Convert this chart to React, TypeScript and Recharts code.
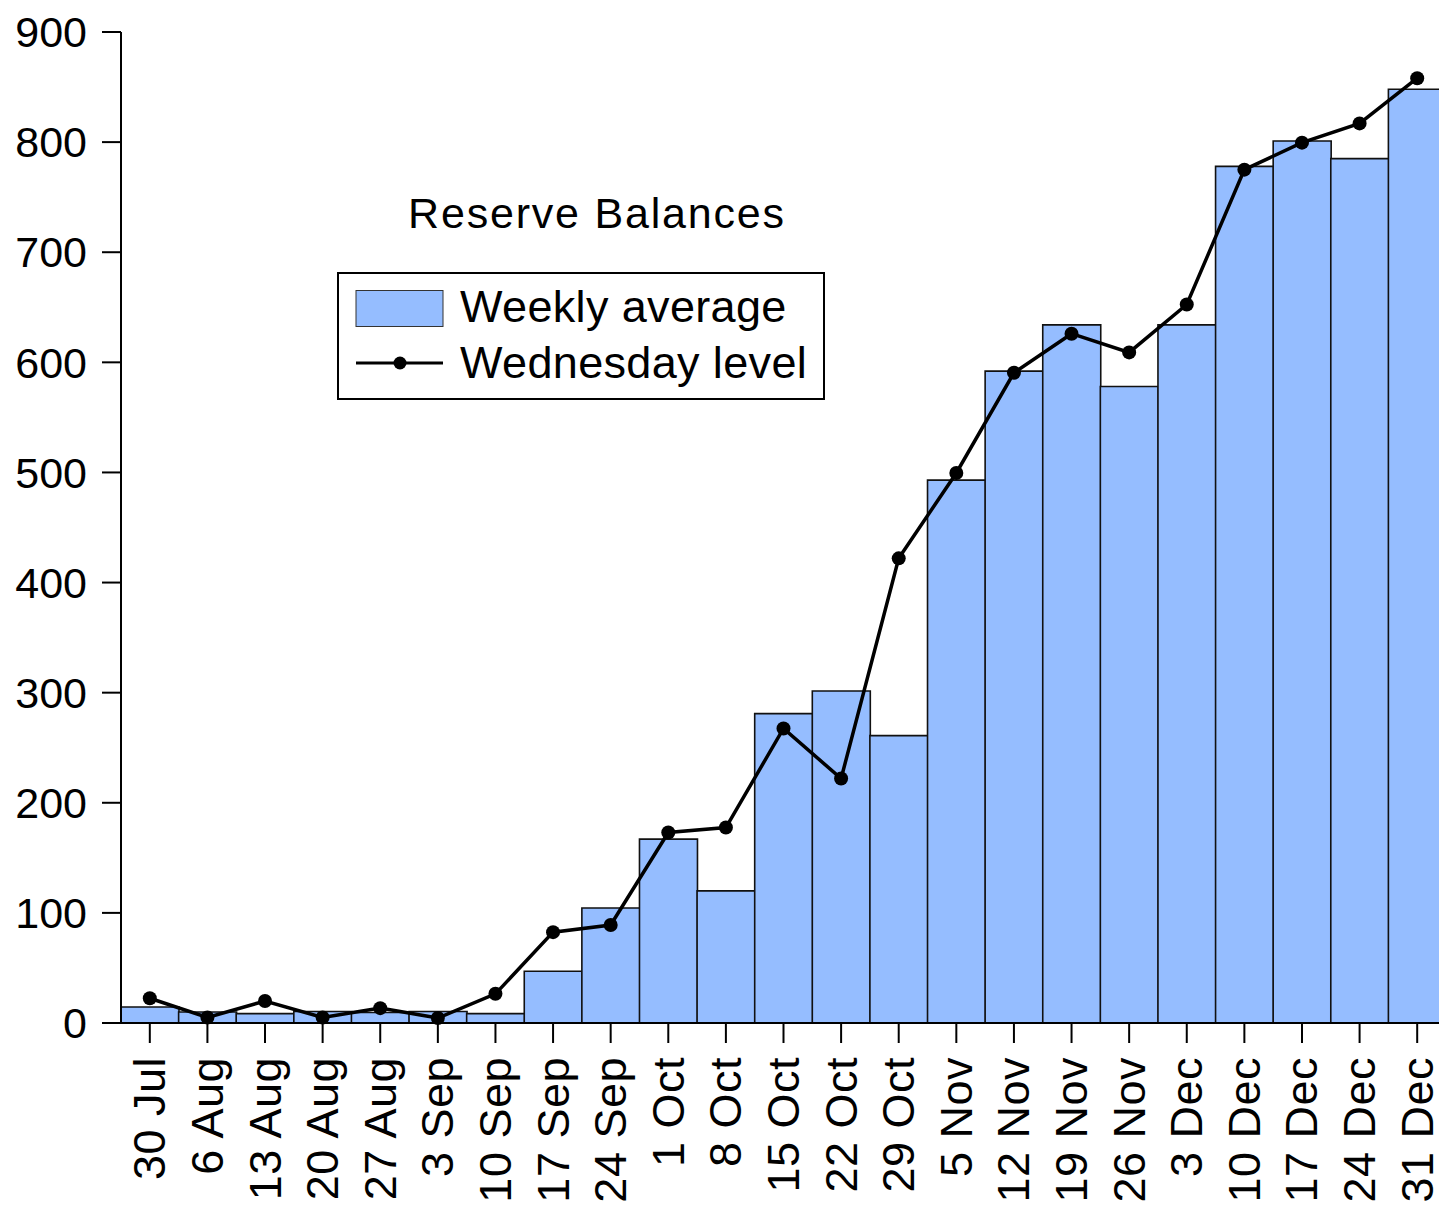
import { Bar, ComposedChart, Legend, Line, XAxis, YAxis } from "recharts"

const weeks = [
  "30 Jul", "6 Aug", "13 Aug", "20 Aug", "27 Aug", "3 Sep", "10 Sep", "17 Sep",
  "24 Sep", "1 Oct", "8 Oct", "15 Oct", "22 Oct", "29 Oct", "5 Nov", "12 Nov",
  "19 Nov", "26 Nov", "3 Dec", "10 Dec", "17 Dec", "24 Dec", "31 Dec",
]

const weeklyAverage = [
  14.5, 10, 8.5, 10.5, 9.5, 10.5, 8.5, 47, 104.5, 167, 120, 281, 301.5, 261,
  493, 592, 634, 578, 634, 778, 801, 785, 848,
]

const wednesdayLevel = [
  22.5, 5, 20, 5, 13.5, 4.5, 26.5, 82.5, 89, 173, 177.5, 267.5, 222, 422,
  499.5, 590.5, 626, 609, 652.5, 775, 799.5, 817, 858,
]

const yTicks = [0, 100, 200, 300, 400, 500, 600, 700, 800, 900]

const title = "Reserve Balances"
const barColor = "#95bdff"
const font = "'Liberation Sans', Arial, sans-serif"

const data = weeks.map((name, i) => ({
  name,
  weekly: weeklyAverage[i],
  wednesday: wednesdayLevel[i],
}))

function WeekTick(props: any) {
  const { x, y, payload } = props
  const ty = y + 12
  return (
    <text
      x={x}
      y={ty}
      transform={`rotate(-90, ${x}, ${ty})`}
      textAnchor="end"
      dominantBaseline="central"
      fontSize={45}
      letterSpacing={0.5}
      fontFamily={font}
      fill="#000"
    >
      {payload.value}
    </text>
  )
}

function LegendBox(props: any) {
  const items = props.payload || []
  const barItem = items.find((p: any) => p.dataKey === "weekly")
  const lineItem = items.find((p: any) => p.dataKey === "wednesday")
  return (
    <svg width={488} height={128} style={{ display: "block" }}>
      <rect x={1} y={1} width={486} height={126} fill="#fff" stroke="#000" strokeWidth={2} />
      <rect x={19} y={18.5} width={87} height={36} fill={barColor} stroke="#333" strokeWidth={1} />
      <text x={123} y={50} fontSize={45} letterSpacing={0.35} fontFamily={font} fill="#000">
        {barItem ? barItem.value : "Weekly average"}
      </text>
      <line x1={19} x2={106} y1={91} y2={91} stroke="#000" strokeWidth={3} />
      <circle cx={63} cy={91} r={6.5} fill="#000" />
      <text x={123} y={106} fontSize={45} letterSpacing={0.35} fontFamily={font} fill="#000">
        {lineItem ? lineItem.value : "Wednesday level"}
      </text>
    </svg>
  )
}

export default function App() {
  return (
    <div
      style={{
        position: "absolute",
        left: 0,
        top: 0,
        width: 1439,
        height: 1209,
        overflow: "hidden",
        background: "#fff",
      }}
    >
      <ComposedChart
        width={1446}
        height={1209}
        data={data}
        margin={{ top: 32, right: 0, bottom: 0, left: 0 }}
        barCategoryGap={0}
        barGap={0}
      >
        <XAxis
          dataKey="name"
          interval={0}
          height={186}
          tickSize={20}
          tick={<WeekTick />}
          axisLine={{ stroke: "#000", strokeWidth: 2 }}
          tickLine={{ stroke: "#000", strokeWidth: 2 }}
        />
        <YAxis
          domain={[0, 900]}
          ticks={yTicks}
          width={121}
          tickSize={19}
          tickMargin={15}
          interval={0}
          axisLine={{ stroke: "#000", strokeWidth: 2 }}
          tickLine={{ stroke: "#000", strokeWidth: 2 }}
          tick={{ fill: "#000", fontSize: 43, fontFamily: font }}
        />
        <Legend
          layout="vertical"
          align="center"
          verticalAlign="middle"
          content={<LegendBox />}
          wrapperStyle={{ position: "absolute", left: 337, top: 272, width: 488, height: 128 }}
        />
        <Bar
          dataKey="weekly"
          name="Weekly average"
          fill={barColor}
          stroke="#111"
          strokeWidth={1.6}
          isAnimationActive={false}
        />
        <Line
          dataKey="wednesday"
          name="Wednesday level"
          type="linear"
          stroke="#000"
          strokeWidth={3.5}
          dot={{ r: 7, fill: "#000", stroke: "#000", strokeWidth: 0 }}
          activeDot={false}
          isAnimationActive={false}
        />
      </ComposedChart>
      <svg
        width={1439}
        height={260}
        style={{ position: "absolute", left: 0, top: 0, pointerEvents: "none" }}
      >
        <text
          x={597}
          y={228}
          textAnchor="middle"
          fontSize={43}
          letterSpacing={1.8}
          fontFamily={font}
          fill="#000"
        >
          {title}
        </text>
      </svg>
    </div>
  )
}
